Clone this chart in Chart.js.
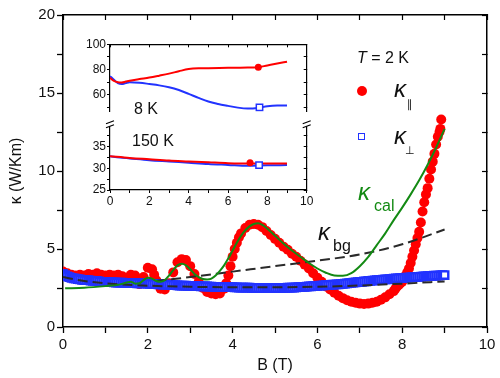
<!DOCTYPE html>
<html><head><meta charset="utf-8">
<script src="https://cdn.jsdelivr.net/npm/chart.js@4.4.0/dist/chart.umd.min.js"></script>
<style>
html,body{margin:0;padding:0;background:#fff;}
#wrap{position:relative;width:500px;height:378px;overflow:hidden;font-family:"Liberation Sans",Arial,sans-serif;color:#111;}
canvas{position:absolute;}
.t{position:absolute;white-space:nowrap;line-height:1;}
.k{font-style:italic;font-size:24px;}
</style></head><body>
<div id="wrap">
<canvas id="main" width="500" height="378" style="left:0;top:0"></canvas>
<canvas id="insetTop" width="250" height="86" style="left:70px;top:34px"></canvas>
<canvas id="insetBot" width="250" height="96" style="left:70px;top:116px"></canvas>

<div class="t" style="left:357px;top:50px;font-size:16px;"><i>T</i> = 2 K</div>
<div style="position:absolute;left:357px;top:86px;width:10px;height:10px;border-radius:50%;background:#ff0000;"></div>
<div class="t k" style="left:394px;top:77px;">κ</div>
<div class="t" style="left:407px;top:99px;font-size:11px;font-family:'DejaVu Sans';">∥</div>
<div style="position:absolute;left:358px;top:133px;width:5px;height:5px;border:1.5px solid #2233ff;background:#fff;"></div>
<div class="t k" style="left:394px;top:124px;">κ</div>
<div class="t" style="left:405px;top:145px;font-size:11px;font-family:'DejaVu Sans';">⊥</div>

<div class="t k" style="left:358px;top:180px;color:#138a13;">κ</div>
<div class="t" style="left:374px;top:198px;font-size:16px;color:#138a13;">cal</div>
<div class="t k" style="left:318px;top:220px;">κ</div>
<div class="t" style="left:333px;top:238px;font-size:16px;">bg</div>

<div class="t" style="left:134px;top:101px;font-size:16px;">8 K</div>
<div class="t" style="left:132px;top:133px;font-size:16px;">150 K</div>
</div>
<script>
// ---------- main panel data (T = 2 K) ----------
const B_PAR = [0,0.1,0.2,0.3,0.4,0.5,0.6,0.7,0.8,0.9,
  1.0,1.1,1.2,1.3,1.4,1.5,1.6,1.7,1.8,1.9,
  2.0,2.1,2.15,2.2,2.3,2.4,2.5,2.6,2.7,2.8,2.9,
  3.0,3.1,3.2,3.3,3.4,3.5,3.6,3.7,3.8,3.85,3.9,3.95,
  4.0,4.05,4.1,4.15,4.2,4.3,4.4,4.5,4.6,4.7,4.8,4.9,
  5.0,5.1,5.2,5.3,5.4,5.5,5.6,5.7,5.8,5.9,
  6.0,6.1,6.2,6.3,6.4,6.5,6.6,6.7,6.8,6.9,
  7.0,7.1,7.2,7.3,7.4,7.5,7.6,7.7,7.8,
  7.84,7.88,7.92,7.96,8.00,8.04,8.08,8.12,8.16,8.20,8.24,8.28,8.32,8.36,8.40,
  8.44,8.48,8.52,8.56,8.60,8.64,8.68,8.72,8.76,8.80,8.84,8.88,8.90,8.92];
const K_PAR = [3.55,3.45,3.35,3.3,3.35,3.3,3.4,3.35,3.45,3.35,
  3.3,3.35,3.3,3.35,3.25,3.15,3.35,3.3,2.75,3.2,
  3.8,3.7,3.35,3.0,2.45,2.4,2.8,3.5,4.15,4.35,4.3,
  3.9,3.4,2.9,2.5,2.25,2.15,2.1,2.15,2.45,2.8,3.3,3.9,
  4.5,5.0,5.4,5.75,6.0,6.35,6.55,6.6,6.55,6.4,6.15,5.9,
  5.65,5.4,5.15,4.95,4.7,4.5,4.25,4.0,3.75,3.45,
  3.15,2.9,2.6,2.4,2.2,2.0,1.85,1.72,1.62,1.55,
  1.5,1.48,1.5,1.55,1.62,1.75,1.9,2.1,2.3,
  2.45,2.6,2.7,2.8,2.9,3.1,3.3,3.5,3.75,4.1,4.5,4.9,5.3,5.7,6.1,
  6.7,7.4,8.0,8.5,8.9,9.5,10.1,10.6,11.1,11.7,12.2,12.5,12.7,13.3];

const B_PERP = [
  0.00,0.05,0.10,0.15,0.20,0.25,0.30,0.35,0.40,0.45,0.50,0.55,0.60,0.65,0.70,0.75,0.80,0.85,0.90,0.95,
  1.00,1.05,1.10,1.15,1.20,1.25,1.30,1.35,1.40,1.45,1.50,1.55,1.60,1.65,1.70,1.75,1.80,1.85,1.90,1.95,
  2.00,2.05,2.10,2.15,2.20,2.25,2.30,2.35,2.40,2.45,2.50,2.55,2.60,2.65,2.70,2.75,2.80,2.85,2.90,2.95,
  3.00,3.05,3.10,3.15,3.20,3.25,3.30,3.35,3.40,3.45,3.50,3.55,3.60,3.65,3.70,3.75,3.80,3.85,3.90,3.95,
  4.00,4.05,4.10,4.15,4.20,4.25,4.30,4.35,4.40,4.45,4.50,4.55,4.60,4.65,4.70,4.75,4.80,4.85,4.90,4.95,
  5.00,5.05,5.10,5.15,5.20,5.25,5.30,5.35,5.40,5.45,5.50,5.55,5.60,5.65,5.70,5.75,5.80,5.85,5.90,5.95,
  6.00,6.05,6.10,6.15,6.20,6.25,6.30,6.35,6.40,6.45,6.50,6.55,6.60,6.65,6.70,6.75,6.80,6.85,6.90,6.95,
  7.00,7.05,7.10,7.15,7.20,7.25,7.30,7.35,7.40,7.45,7.50,7.55,7.60,7.65,7.70,7.75,7.80,7.85,7.90,7.95,
  8.00,8.05,8.10,8.15,8.20,8.25,8.30,8.35,8.40,8.45,8.50,8.55,8.60,8.65,8.70,8.75,8.80,8.85,8.90,8.95,
  9.00];
const K_PERP = [
  3.4,3.32,3.25,3.2,3.15,3.12,3.1,3.07,3.05,3.02,3.0,3.0,3.0,2.97,2.95,2.95,2.95,2.92,2.9,2.9,
  2.9,2.89,2.88,2.87,2.86,2.85,2.85,2.84,2.84,2.83,2.83,2.82,2.82,2.81,2.81,2.8,2.8,2.79,2.79,2.78,
  2.78,2.77,2.76,2.75,2.75,2.74,2.73,2.72,2.72,2.71,2.7,2.69,2.69,2.68,2.67,2.66,2.66,2.65,2.65,2.64,
  2.64,2.63,2.63,2.62,2.62,2.61,2.61,2.6,2.6,2.59,2.59,2.58,2.58,2.57,2.57,2.56,2.56,2.55,2.55,2.55,
  2.55,2.54,2.54,2.53,2.53,2.52,2.52,2.52,2.52,2.51,2.51,2.5,2.5,2.5,2.5,2.5,2.5,2.5,2.5,2.5,
  2.5,2.5,2.5,2.5,2.51,2.51,2.52,2.52,2.53,2.53,2.54,2.55,2.56,2.57,2.58,2.59,2.6,2.61,2.62,2.63,
  2.64,2.65,2.66,2.67,2.68,2.69,2.7,2.71,2.72,2.73,2.74,2.75,2.77,2.78,2.8,2.81,2.83,2.84,2.86,2.87,
  2.89,2.9,2.92,2.93,2.95,2.96,2.98,2.99,3.0,3.01,3.02,3.03,3.05,3.06,3.07,3.08,3.1,3.11,3.12,3.13,
  3.14,3.15,3.16,3.17,3.18,3.19,3.2,3.21,3.22,3.23,3.24,3.25,3.26,3.27,3.28,3.29,3.3,3.3,3.31,3.32,
  3.33];

const B_CAL = [0.05,0.5,1.0,1.3,1.5,1.6,1.7,1.8,1.9,2.0,2.1,2.2,2.3,2.4,2.5,2.6,2.7,2.8,2.9,
  3.0,3.1,3.2,3.3,3.4,3.5,3.6,3.7,3.8,3.9,4.0,4.1,4.2,4.3,4.4,4.5,4.6,4.7,4.8,4.9,
  5.0,5.2,5.4,5.6,5.8,6.0,6.2,6.4,6.6,6.8,7.0,7.2,7.4,7.6,7.8,8.0,8.2,8.4,8.6,8.8,9.0];
const K_CAL = [2.48,2.52,2.62,2.7,2.85,2.9,2.78,2.8,3.0,3.15,3.1,2.95,2.9,3.0,3.3,3.65,3.95,4.05,3.95,
  3.7,3.4,3.2,3.08,3.05,3.1,3.3,3.6,3.95,4.4,4.9,5.4,5.85,6.2,6.45,6.6,6.65,6.55,6.35,6.1,
  5.85,5.35,4.9,4.5,4.1,3.75,3.48,3.3,3.28,3.45,3.9,4.5,5.25,6.0,6.85,7.65,8.5,9.4,10.4,11.5,12.7];

const B_BG_HI = [2.2,3,4,5,6,7,8,9];
const K_BG_HI = [2.95,3.2,3.55,3.9,4.25,4.65,5.3,6.25];
const B_BG_LO = [0,0.5,1,2,3,4,5,6,7,8,9];
const K_BG_LO = [3.2,2.95,2.8,2.65,2.58,2.55,2.55,2.58,2.66,2.78,2.92];

// ---------- inset data ----------
const IN_B8_PAR  = [0,0.2,0.4,0.6,0.8,1,1.5,2,2.5,3,3.5,4,4.5,5,6,7,7.5,8,8.5,9];
const IN_K8_PAR  = [73.5,71,70,69.8,70.5,71.2,72.5,73.7,75.2,76.8,78.7,80.4,81,81.1,81.4,81.6,81.8,83.3,84.8,86.2];
const IN_B8_PERP = [0,0.2,0.4,0.6,0.8,1,1.5,2,2.5,3,3.5,4,4.5,5,5.5,6,6.5,7,7.5,8,8.5,9];
const IN_K8_PERP = [74.8,72,69.3,68.5,69.3,70,69.6,68.6,67.5,66,63.8,60.8,57.6,54.7,52.8,51.3,49.9,49.2,49.6,51,51.5,51.5];
const IN_B150_PAR  = [0,1,2,3,4,5,6,7,8,9];
const IN_K150_PAR  = [32.8,32.4,32.1,31.8,31.6,31.4,31.2,31.1,31.1,31.1];
const IN_B150_PERP = [0,0.5,1,2,3,4,5,6,7,8,9];
const IN_K150_PERP = [32.8,32.5,32.3,31.9,31.6,31.3,31.0,30.8,30.6,30.7,30.75];
const IN_MARK_PAR  = [{x:7.54,y:81.8},{x:7.12,y:31.3}];
const IN_MARK_PERP = [{x:7.6,y:50.1},{x:7.58,y:30.75}];

// ---------- tick labels ----------
const X_TICKS = [0,2,4,6,8,10];
const Y_TICKS = [0,5,10,15,20];
const IN_X_TICKS = [0,2,4,6,8,10];
const IN_YHI_TICKS = [60,80,100];
const IN_YLO_TICKS = [25,30,35];

const FONT = "'Liberation Sans', Arial, sans-serif";
const RED = '#ff0000', BLUE = '#2233ff', GREEN = '#138a13', DASH = '#2a2a2a';
const pts = (xs, ys) => xs.map((x, i) => ({x, y: ys[i]}));
const lbl = list => v => list.some(t => Math.abs(t - v) < 1e-6) ? String(v) : '';

function frameAxis(pos, extra) {
  return Object.assign({
    type: 'linear', position: pos,
    ticks: {display: false, includeBounds: false},
    grid: {drawOnChartArea: false, tickLength: -5, tickColor: '#000', tickWidth: 1.2},
    border: {display: true, color: '#000', width: 1.5}
  }, extra);
}

new Chart(document.getElementById('main'), {
  type: 'scatter',
  data: {datasets: [
    {label: 'κcal', data: pts(B_CAL, K_CAL), showLine: true, borderColor: GREEN, borderWidth: 2,
     pointRadius: 0, cubicInterpolationMode: 'monotone', order: 0},
    {label: 'κbg', data: pts(B_BG_HI, K_BG_HI), showLine: true, borderColor: DASH, borderWidth: 2,
     borderDash: [10, 5], pointRadius: 0, cubicInterpolationMode: 'monotone', order: 1},
    {label: 'κbg low', data: pts(B_BG_LO, K_BG_LO), showLine: true, borderColor: DASH, borderWidth: 2,
     borderDash: [10, 5], pointRadius: 0, cubicInterpolationMode: 'monotone', order: 1},
    {label: 'κ⊥', data: pts(B_PERP, K_PERP), pointStyle: 'rect', pointRadius: 5.2,
     borderColor: BLUE, backgroundColor: '#ffffff', borderWidth: 2.4, order: 2},
    {label: 'κ∥', data: pts(B_PAR, K_PAR), pointStyle: 'circle', pointRadius: 5,
     borderColor: RED, backgroundColor: RED, borderWidth: 0, order: 3}
  ]},
  options: {
    responsive: false, animation: false, devicePixelRatio: 1,
    layout: {padding: {left: 0, top: 15, right: 13, bottom: 0}},
    plugins: {legend: {display: false}, tooltip: {enabled: false}},
    scales: {
      x: {type: 'linear', position: 'bottom', min: 0, max: 10,
        ticks: {stepSize: 1, autoSkip: false, maxRotation: 0, padding: 3, color: '#111',
                font: {family: FONT, size: 15}, callback: lbl(X_TICKS)},
        grid: {drawOnChartArea: false, tickLength: 6, tickColor: '#000', tickWidth: 1.3},
        border: {display: true, color: '#000', width: 1.5},
        title: {display: true, text: 'B (T)', color: '#111', font: {family: FONT, size: 16},
                padding: {top: 0, bottom: 3}},
        afterFit: s => { s.height = 51; }},
      x2: frameAxis('top', {min: 0, max: 10, ticks: {display: false, stepSize: 1, includeBounds: false},
        afterFit: s => { s.height = 0; }}),
      y: {type: 'linear', position: 'left', min: 0, max: 20,
        ticks: {stepSize: 2.5, autoSkip: false, padding: 2, color: '#111',
                font: {family: FONT, size: 15}, callback: lbl(Y_TICKS)},
        grid: {drawOnChartArea: false, tickLength: 6, tickColor: '#000', tickWidth: 1.3},
        border: {display: true, color: '#000', width: 1.5},
        title: {display: true, text: 'κ (W/Km)', color: '#111', font: {family: FONT, size: 16},
                padding: {top: 7, bottom: 0}},
        afterFit: s => { s.width = 63; }},
      y2: frameAxis('right', {min: 0, max: 20, ticks: {display: false, stepSize: 2.5, includeBounds: false},
        afterFit: s => { s.width = 0; }})
    }
  }
});

// ---------- inset ----------
const breakMarks = {
  id: 'breakMarks',
  afterDraw(chart) {
    const {ctx, chartArea: a} = chart;
    ctx.save();
    [a.left, a.right].forEach(x => {
      ctx.fillStyle = '#fff';
      ctx.fillRect(x - 5, a.top - 2, 10, 4);
      ctx.strokeStyle = '#000'; ctx.lineWidth = 1.2;
      ctx.beginPath();
      ctx.moveTo(x - 4, a.top - 0.5); ctx.lineTo(x + 4, a.top - 3.5);
      ctx.moveTo(x - 4, a.top + 3.5); ctx.lineTo(x + 4, a.top + 0.5);
      ctx.stroke();
    });
    ctx.restore();
  }
};

function insetDatasets(bPar, kPar, bPerp, kPerp, markPar, markPerp) {
  return [
    {data: [markPar], pointStyle: 'circle', pointRadius: 3.5, backgroundColor: RED, borderColor: RED, borderWidth: 0, order: 0},
    {data: [markPerp], pointStyle: 'rect', pointRadius: 4.5, backgroundColor: '#fff', borderColor: BLUE, borderWidth: 1.5, order: 0},
    {data: pts(bPar, kPar), showLine: true, borderColor: RED, borderWidth: 2, pointRadius: 0, cubicInterpolationMode: 'monotone', order: 1},
    {data: pts(bPerp, kPerp), showLine: true, borderColor: BLUE, borderWidth: 2, pointRadius: 0, cubicInterpolationMode: 'monotone', order: 2}
  ];
}
const inTick = {family: FONT, size: 12};

new Chart(document.getElementById('insetTop'), {
  type: 'scatter',
  data: {datasets: insetDatasets(IN_B8_PAR, IN_K8_PAR, IN_B8_PERP, IN_K8_PERP, IN_MARK_PAR[0], IN_MARK_PERP[0])},
  options: {
    responsive: false, animation: false, devicePixelRatio: 1,
    layout: {padding: {left: 0, top: 10.3, right: 13.3, bottom: 1.7}},
    plugins: {legend: {display: false}, tooltip: {enabled: false}},
    scales: {
      x: {type: 'linear', min: 0, max: 10, display: false},
      x2: frameAxis('top', {min: 0, max: 10, ticks: {display: false, stepSize: 1, includeBounds: false},
        grid: {drawOnChartArea: false, tickLength: -3, tickColor: '#000', tickWidth: 1},
        border: {display: true, color: '#000', width: 1.2},
        afterFit: s => { s.height = 0; }}),
      y: {type: 'linear', position: 'left', min: 46.6, max: 100,
        ticks: {stepSize: 10, includeBounds: false, autoSkip: false, padding: 1, color: '#111', font: inTick, callback: lbl(IN_YHI_TICKS)},
        grid: {drawOnChartArea: false, tickLength: 3, tickColor: '#000', tickWidth: 1},
        border: {display: true, color: '#000', width: 1.2},
        afterFit: s => { s.width = 40; }},
      y2: frameAxis('right', {min: 46.6, max: 100, ticks: {display: false, stepSize: 10, includeBounds: false},
        grid: {drawOnChartArea: false, tickLength: -3, tickColor: '#000', tickWidth: 1},
        border: {display: true, color: '#000', width: 1.2},
        afterFit: s => { s.width = 0; }})
    }
  }
});

new Chart(document.getElementById('insetBot'), {
  type: 'scatter',
  data: {datasets: insetDatasets(IN_B150_PAR, IN_K150_PAR, IN_B150_PERP, IN_K150_PERP, IN_MARK_PAR[1], IN_MARK_PERP[1])},
  options: {
    responsive: false, animation: false, devicePixelRatio: 1,
    layout: {padding: {left: 0, top: 2.3, right: 13.3, bottom: 0}},
    plugins: {legend: {display: false}, tooltip: {enabled: false}},
    scales: {
      x: {type: 'linear', position: 'bottom', min: 0, max: 10,
        ticks: {stepSize: 1, autoSkip: false, maxRotation: 0, padding: 1, color: '#111', font: inTick, callback: lbl(IN_X_TICKS)},
        grid: {drawOnChartArea: false, tickLength: 3, tickColor: '#000', tickWidth: 1},
        border: {display: true, color: '#000', width: 1.2},
        afterFit: s => { s.height = 22; }},
      y: {type: 'linear', position: 'left', min: 25, max: 40.2,
        ticks: {stepSize: 2.5, includeBounds: false, autoSkip: false, padding: 1, color: '#111', font: inTick, callback: lbl(IN_YLO_TICKS)},
        grid: {drawOnChartArea: false, tickLength: 3, tickColor: '#000', tickWidth: 1},
        border: {display: true, color: '#000', width: 1.2},
        afterFit: s => { s.width = 40; }},
      y2: frameAxis('right', {min: 25, max: 40.2, ticks: {display: false, stepSize: 2.5, includeBounds: false},
        grid: {drawOnChartArea: false, tickLength: -3, tickColor: '#000', tickWidth: 1},
        border: {display: true, color: '#000', width: 1.2},
        afterFit: s => { s.width = 0; }})
    }
  },
  plugins: [breakMarks]
});
</script>
</body></html>
